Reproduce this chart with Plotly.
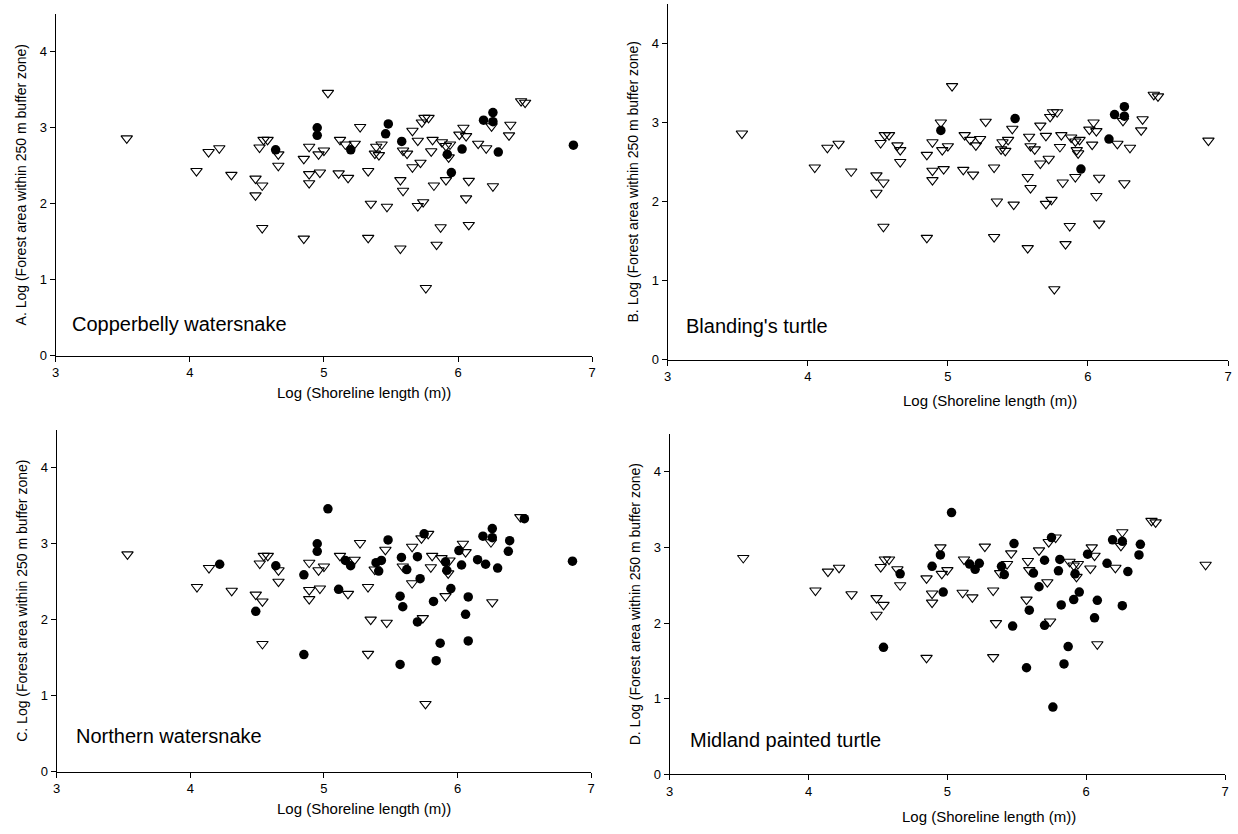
import plotly.graph_objects as go

# Log shoreline length (m) for each wetland
shoreline = [3.53, 4.05, 4.14, 4.22, 4.31, 4.49, 4.49, 4.52, 4.54, 4.54,
             4.55, 4.58, 4.64, 4.66, 4.66, 4.85, 4.85, 4.89, 4.89, 4.89,
             4.95, 4.95, 4.96, 4.97, 5.00, 5.03, 5.11, 5.12, 5.16, 5.18,
             5.20, 5.23, 5.27, 5.33, 5.33, 5.35, 5.39, 5.41, 5.38, 5.43,
             5.46, 5.48, 5.47, 5.58, 5.57, 5.57, 5.59, 5.59, 5.62, 5.66,
             5.66, 5.70, 5.70, 5.72, 5.73, 5.74, 5.75, 5.78, 5.76, 5.80,
             5.81, 5.82, 5.84, 5.87, 5.88, 5.91, 5.92, 5.91, 5.93, 5.94,
             5.95, 6.01, 6.03, 6.04, 6.06, 6.06, 6.08, 6.08, 6.15, 6.19,
             6.21, 6.25, 6.26, 6.26, 6.26, 6.30, 6.38, 6.39, 6.47, 6.50,
             6.86]

# Log forest area within 250 m buffer zone
forest = [2.86, 2.43, 2.68, 2.73, 2.38, 2.33, 2.11, 2.74, 2.24, 1.68,
          2.84, 2.84, 2.71, 2.65, 2.50, 2.59, 1.54, 2.75, 2.39, 2.27,
          2.90, 3.00, 2.65, 2.41, 2.70, 3.46, 2.40, 2.84, 2.78, 2.34,
          2.71, 2.79, 3.01, 2.43, 1.55, 2.00, 2.75, 2.64, 2.66, 2.78,
          2.92, 3.05, 1.96, 2.82, 2.31, 1.41, 2.17, 2.70, 2.66, 2.96,
          2.48, 2.83, 1.97, 2.54, 3.07, 2.02, 3.13, 3.13, 0.89, 2.69,
          2.84, 2.24, 1.46, 1.69, 2.81, 2.76, 2.65, 2.31, 2.61, 2.78,
          2.41, 2.91, 2.72, 3.00, 2.89, 2.07, 2.30, 1.72, 2.79, 3.10,
          2.73, 3.02, 3.20, 3.08, 2.23, 2.68, 2.90, 3.04, 3.35, 3.33,
          2.77]

# Presence (1) / absence (0) of each species at each wetland
copperbelly = [0, 0, 0, 0, 0, 0, 0, 0, 0, 0,
               0, 0, 1, 0, 0, 0, 0, 0, 0, 0,
               1, 1, 0, 0, 0, 0, 0, 0, 0, 0,
               1, 0, 0, 0, 0, 0, 0, 0, 0, 0,
               1, 1, 0, 1, 0, 0, 0, 0, 0, 0,
               0, 0, 0, 0, 0, 0, 0, 0, 0, 0,
               0, 0, 0, 0, 0, 0, 1, 0, 0, 0,
               1, 0, 1, 0, 0, 0, 0, 0, 0, 1,
               0, 0, 1, 1, 0, 1, 0, 0, 0, 0,
               1]

blandings = [0, 0, 0, 0, 0, 0, 0, 0, 0, 0,
             0, 0, 0, 0, 0, 0, 0, 0, 0, 0,
             1, 0, 0, 0, 0, 0, 0, 0, 0, 0,
             0, 0, 0, 0, 0, 0, 0, 0, 0, 0,
             0, 1, 0, 0, 0, 0, 0, 0, 0, 0,
             0, 0, 0, 0, 0, 0, 0, 0, 0, 0,
             0, 0, 0, 0, 0, 0, 0, 0, 0, 0,
             1, 0, 0, 0, 0, 0, 0, 0, 1, 1,
             0, 0, 1, 1, 0, 0, 0, 0, 0, 0,
             0]

northern = [0, 0, 0, 1, 0, 0, 1, 0, 0, 0,
            0, 0, 1, 0, 0, 1, 1, 0, 0, 0,
            1, 1, 0, 0, 0, 1, 1, 0, 1, 0,
            1, 0, 0, 0, 0, 0, 1, 1, 0, 1,
            0, 1, 0, 1, 1, 1, 1, 0, 1, 0,
            0, 1, 1, 1, 0, 0, 1, 0, 0, 0,
            0, 1, 1, 1, 0, 1, 1, 0, 0, 0,
            1, 1, 1, 0, 0, 1, 1, 1, 1, 1,
            1, 0, 1, 1, 0, 1, 1, 1, 0, 1,
            1]

midland = [0, 0, 0, 0, 0, 0, 0, 0, 0, 1,
           0, 0, 0, 1, 0, 0, 0, 1, 0, 0,
           1, 0, 0, 1, 0, 1, 0, 0, 1, 0,
           1, 1, 0, 0, 0, 0, 1, 1, 0, 0,
           0, 1, 1, 0, 0, 1, 1, 0, 1, 0,
           1, 1, 1, 0, 0, 0, 1, 0, 1, 1,
           1, 1, 1, 1, 0, 0, 1, 1, 0, 0,
           1, 1, 0, 0, 0, 1, 1, 0, 1, 1,
           0, 0, 0, 1, 1, 1, 1, 1, 0, 0,
           0]

panels = [
    ("A", "Copperbelly watersnake", copperbelly),
    ("B", "Blanding's turtle", blandings),
    ("C", "Northern watersnake", northern),
    ("D", "Midland painted turtle", midland),
]

W, H = 1238, 834
# plot-area pixel boxes: (left, right, top(y=4.5), bottom(y=0))
boxes = [(52, 592, 14, 359), (668, 1232, 4, 363),
         (53, 591, 434, 779), (670, 1229, 438, 782)]
label_pos = [(3.105, 0.41), (3.117, 0.43), (3.13, 0.47), (3.13, 0.45)]
xtitle_px = [396, 404, 816, 824]

FONT = "Liberation Sans, Arial, sans-serif"
fig = go.Figure()
layout = dict(width=W, height=H, margin=dict(l=0, r=0, t=0, b=0),
              paper_bgcolor="white", plot_bgcolor="white", showlegend=False,
              font=dict(family=FONT, color="black", size=13))
annotations = []

for i, (letter, name, pres) in enumerate(panels):
    n = i + 1
    xa = "x" if n == 1 else f"x{n}"
    ya = "y" if n == 1 else f"y{n}"
    ax_x = [s for s, p in zip(shoreline, pres) if p == 0]
    ay_x = [f for f, p in zip(forest, pres) if p == 0]
    px_ = [s for s, p in zip(shoreline, pres) if p == 1]
    py_ = [f for f, p in zip(forest, pres) if p == 1]
    fig.add_trace(go.Scatter(x=ax_x, y=ay_x, mode="markers", xaxis=xa, yaxis=ya,
                             marker=dict(symbol="triangle-down-open", size=10,
                                         color="black", line=dict(width=1.1, color="black")),
                             hoverinfo="x+y"))
    fig.add_trace(go.Scatter(x=px_, y=py_, mode="markers", xaxis=xa, yaxis=ya,
                             marker=dict(symbol="circle", size=9.5, color="black",
                                         line=dict(width=0)),
                             hoverinfo="x+y"))
    l, r, t, b = boxes[i]
    xkey = "xaxis" if n == 1 else f"xaxis{n}"
    ykey = "yaxis" if n == 1 else f"yaxis{n}"
    layout[xkey] = dict(domain=[l / W, r / W], anchor=ya, range=[3, 7],
                        tickvals=[3, 4, 5, 6, 7], showline=True, linecolor="black",
                        linewidth=1, ticks="outside", ticklen=5, tickcolor="black",
                        showgrid=False, zeroline=False,
                        tickfont=dict(size=13, family=FONT, color="black"))
    layout[ykey] = dict(domain=[1 - b / H, 1 - t / H], anchor=xa, range=[0, 4.5],
                        tickvals=[0, 1, 2, 3, 4], showline=True, linecolor="black",
                        linewidth=1, ticks="outside", ticklen=5, tickcolor="black",
                        showgrid=False, zeroline=False,
                        tickfont=dict(size=13, family=FONT, color="black"),
                        title=dict(text=f"{letter}. Log (Forest area within 250 m buffer zone)",
                                   font=dict(size=14, family=FONT, color="black"),
                                   standoff=9))
    lx, ly = label_pos[i]
    annotations.append(dict(x=lx, y=ly, xref=xa, yref=ya, text=name,
                            showarrow=False, xanchor="left", yanchor="middle",
                            font=dict(size=20, family=FONT, color="black")))
    annotations.append(dict(x=5.3, y=1 - xtitle_px[i] / H, xref=xa, yref="paper",
                            text="Log (Shoreline length (m))", showarrow=False,
                            xanchor="center", yanchor="middle",
                            font=dict(size=15, family=FONT, color="black")))

layout["annotations"] = annotations
fig.update_layout(**layout)
fig.write_html("out.html")
